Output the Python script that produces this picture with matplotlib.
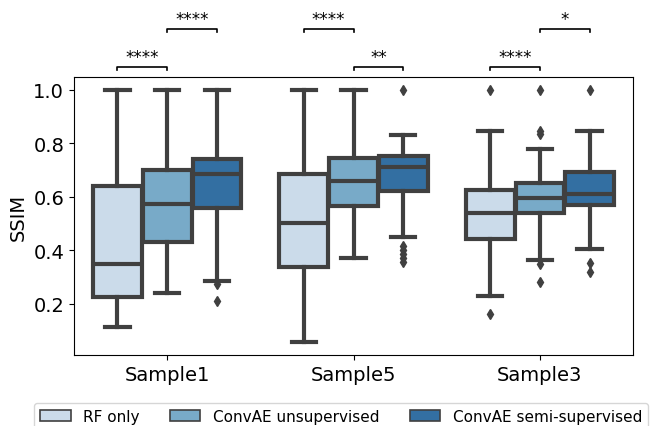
import colorsys
import numpy as np
import matplotlib
matplotlib.use("Agg")
import matplotlib.pyplot as plt
from matplotlib.patches import Patch

samples = ["Sample1", "Sample5", "Sample3"]
methods = ["RF only", "ConvAE unsupervised", "ConvAE semi-supervised"]

# box statistics per sample, one entry per method
whis_low = [[0.113, 0.242, 0.287], [0.057, 0.371, 0.449], [0.229, 0.363, 0.406]]
q1 = [[0.225, 0.433, 0.560], [0.337, 0.564, 0.620], [0.442, 0.540, 0.570]]
median = [[0.350, 0.575, 0.685], [0.503, 0.661, 0.713], [0.538, 0.596, 0.610]]
q3 = [[0.640, 0.702, 0.742], [0.686, 0.745, 0.754], [0.624, 0.653, 0.691]]
whis_high = [[1.000, 1.000, 1.000], [1.000, 1.000, 0.830], [0.845, 0.778, 0.845]]
outliers = [
    [[], [], [0.275, 0.210]],
    [[], [], [1.0, 0.415, 0.400, 0.385, 0.370, 0.355]],
    [[1.0, 0.163], [1.0, 0.845, 0.835, 0.350, 0.283], [1.0, 0.353, 0.321]],
]

# significance brackets: (sample, method a, method b, stars, level)
pairs = [
    (0, 0, 1, "****", 0),
    (0, 1, 2, "****", 1),
    (1, 0, 1, "****", 1),
    (1, 1, 2, "**", 0),
    (2, 0, 1, "****", 0),
    (2, 1, 2, "*", 1),
]
level_y = [1.085, 1.225]


def desaturate(color, prop):
    h, l, s = colorsys.rgb_to_hls(*color)
    return colorsys.hls_to_rgb(h, l, s * prop)


cmap = plt.get_cmap("Blues")
colors = [desaturate(cmap(v)[:3], 0.75) for v in (0.25, 0.5, 0.75)]
lum = min(colorsys.rgb_to_hls(*c)[1] for c in colors) * 0.6
gray = (lum, lum, lum)

fig = plt.figure(figsize=(6.5, 4.27), dpi=100)
ax = fig.add_axes([0.1138, 0.1663, 0.8602, 0.651])

n_hue = len(methods)
step = 0.8 / n_hue
lw = 3.0

for i in range(len(samples)):
    for j in range(n_hue):
        stats = [dict(whislo=whis_low[i][j], q1=q1[i][j], med=median[i][j],
                      q3=q3[i][j], whishi=whis_high[i][j],
                      fliers=outliers[i][j])]
        pos = i + (j - (n_hue - 1) / 2) * step
        ax.bxp(stats, positions=[pos], widths=step * 0.98, patch_artist=True,
               manage_ticks=False,
               boxprops=dict(facecolor=colors[j], edgecolor=gray, linewidth=lw),
               medianprops=dict(color=gray, linewidth=lw),
               whiskerprops=dict(color=gray, linewidth=lw),
               capprops=dict(color=gray, linewidth=lw),
               flierprops=dict(marker="d", markersize=5, markerfacecolor=gray,
                               markeredgecolor=gray, linestyle="none"))

ax.set_xlim(-0.5, 2.5)
ax.set_ylim(0.0095, 1.0475)
ax.set_xticks(range(len(samples)))
ax.set_xticklabels(samples)
ax.set_yticks([0.2, 0.4, 0.6, 0.8, 1.0])
ax.tick_params(labelsize=14)
ax.set_ylabel("SSIM", fontsize=14)

tip = 0.01
for i, a, b, stars, lev in pairs:
    xa = i + (a - 1) * step
    xb = i + (b - 1) * step
    y = level_y[lev]
    ax.plot([xa, xa, xb, xb], [y - tip, y, y, y - tip], color="black",
            lw=1.2, clip_on=False)
    ax.annotate(stars, xy=((xa + xb) / 2, y), xytext=(0, 1),
                textcoords="offset points", ha="center", va="bottom",
                fontsize=12, annotation_clip=False)

handles = [Patch(facecolor=c, edgecolor=gray, linewidth=1.2) for c in colors]
fig.legend(handles, methods, loc="upper left", ncol=3, fontsize=11,
           bbox_to_anchor=(34 / 650, 1 - 404 / 427), borderaxespad=0)

fig.savefig("out.png", dpi=100)
